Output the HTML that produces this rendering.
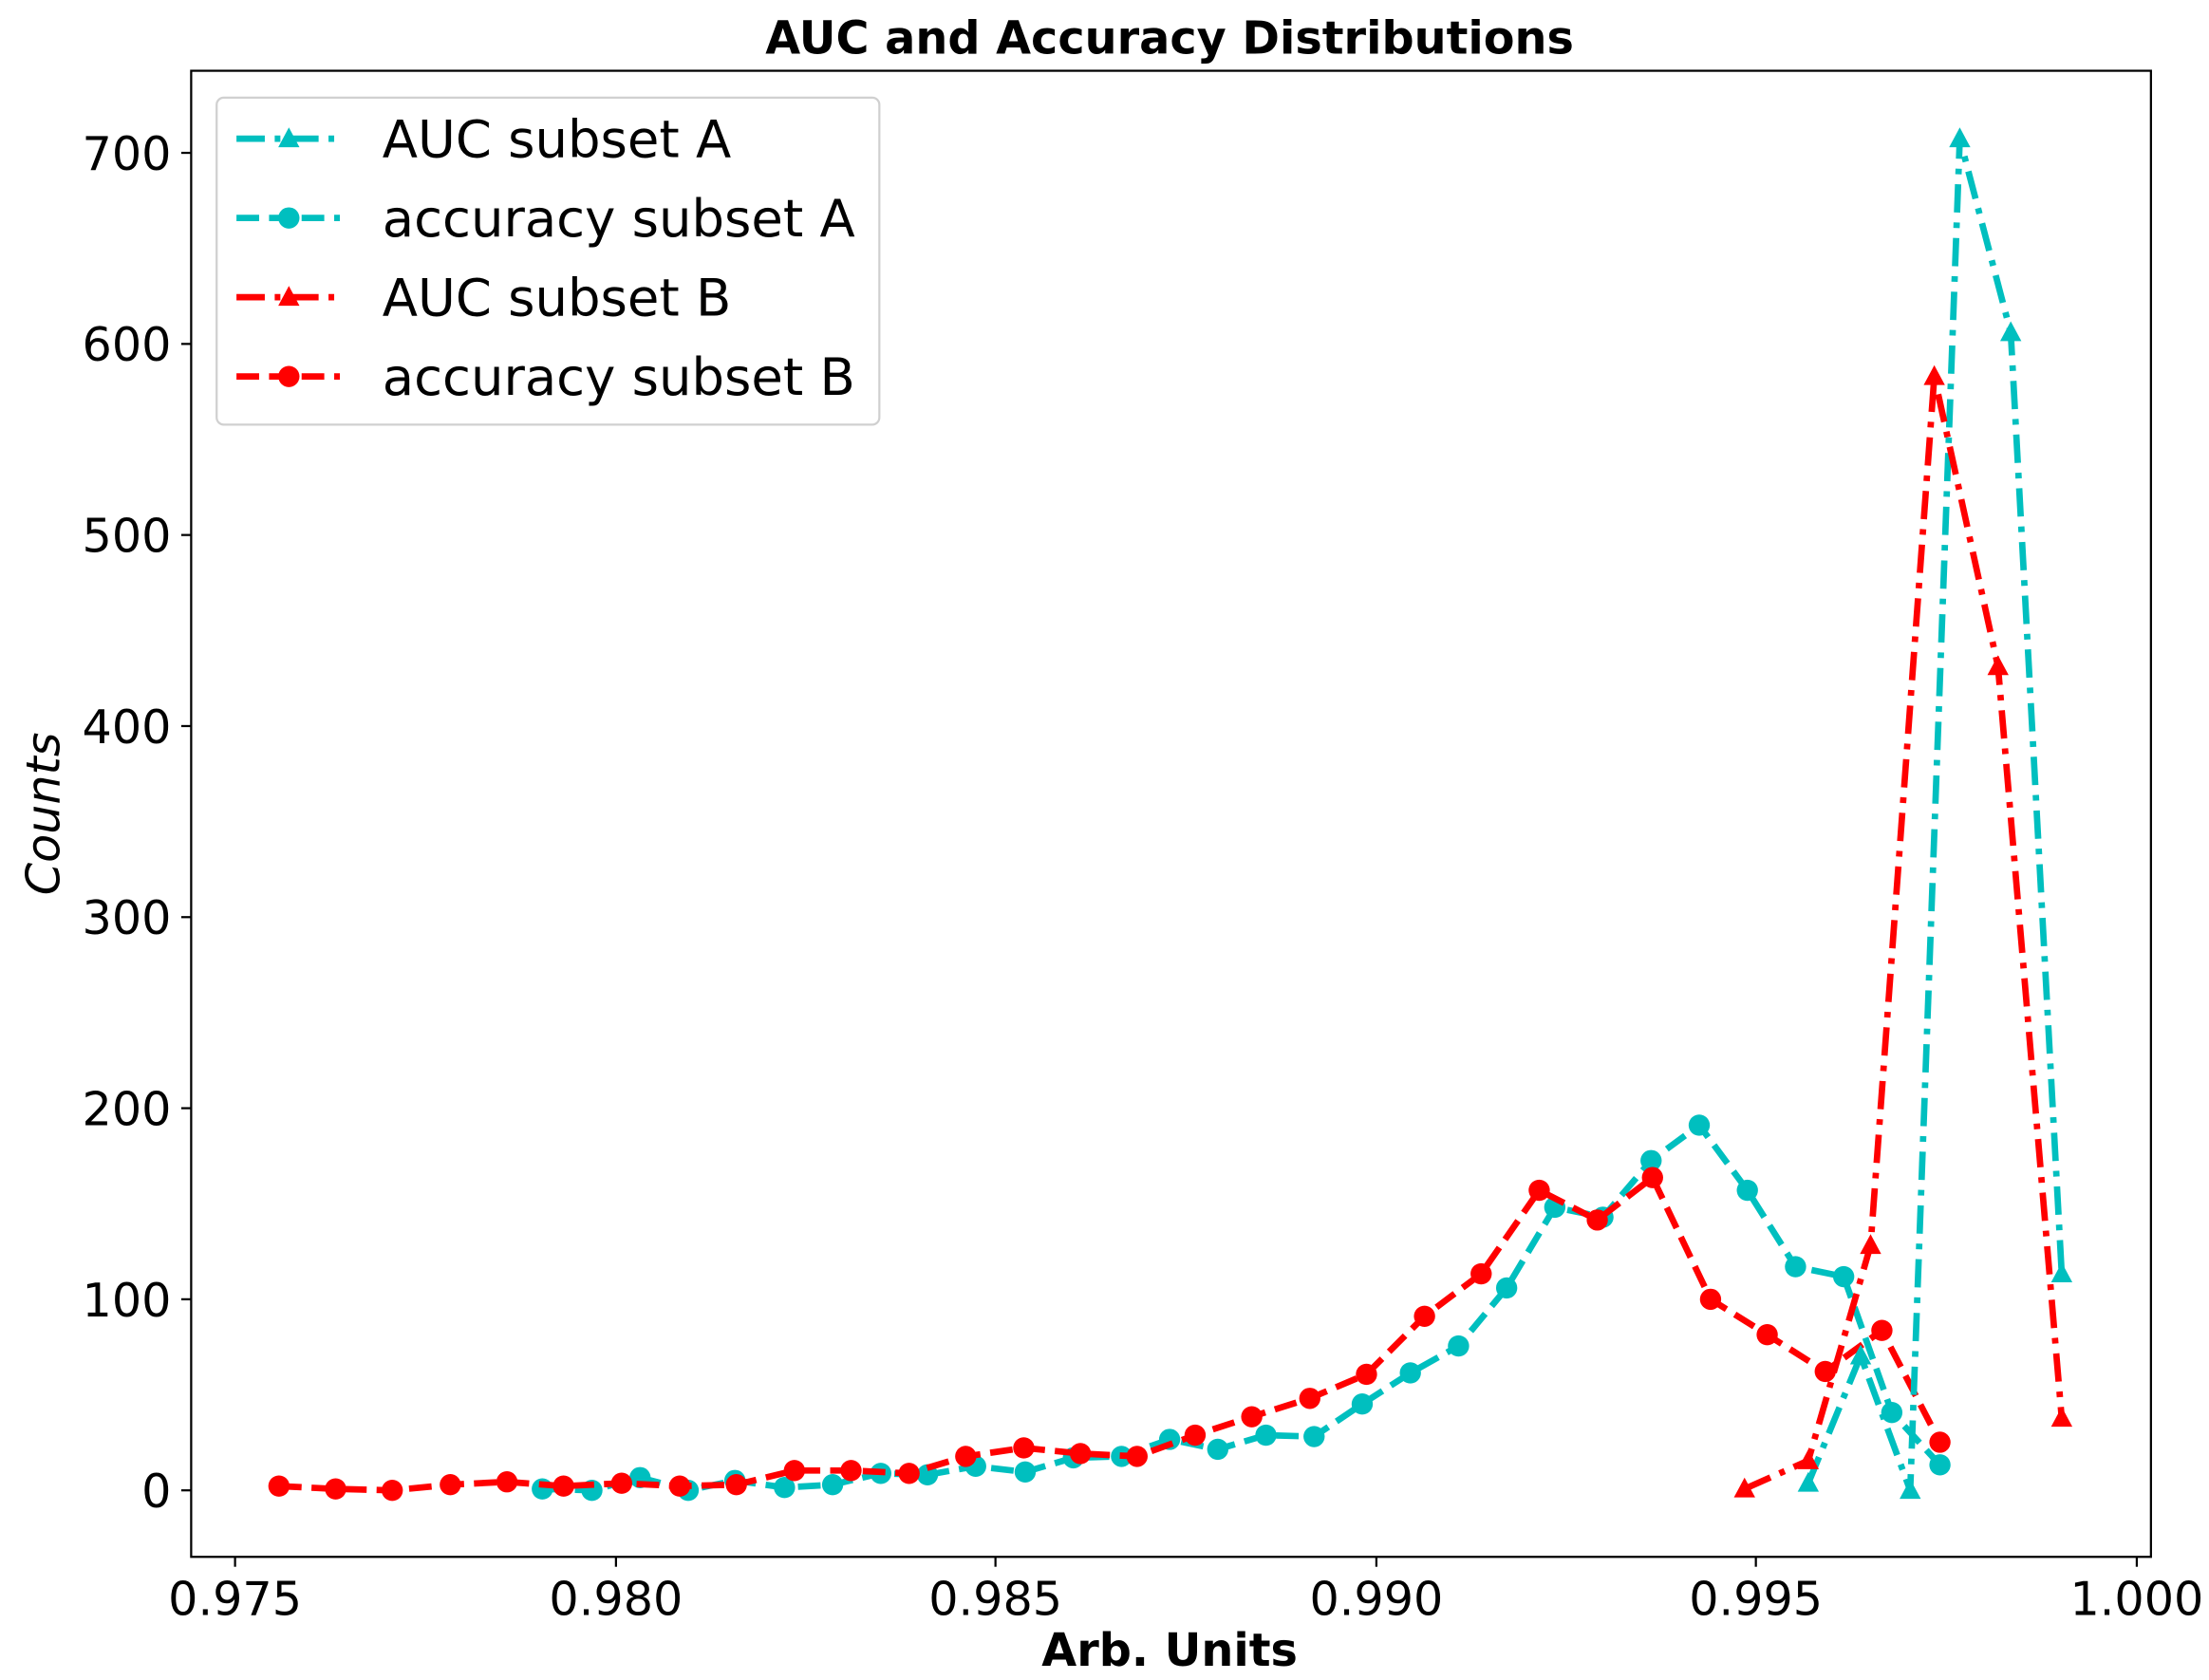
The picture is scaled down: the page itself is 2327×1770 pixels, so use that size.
<!DOCTYPE html>
<html><head><meta charset="utf-8"><style>html,body{margin:0;padding:0;background:#fff}svg{display:block}text{font-family:"DejaVu Sans","Liberation Sans",sans-serif}</style></head><body>
<svg width="2327" height="1770" viewBox="0 0 1560 1187" preserveAspectRatio="none" xmlns="http://www.w3.org/2000/svg">
<defs>
<marker id="tc" viewBox="-10 -10 20 20" markerWidth="20" markerHeight="20" markerUnits="userSpaceOnUse" refX="0" refY="0"><polygon points="0,-8 7.5,6 -7.5,6" fill="#00bfbf"/></marker>
<marker id="cc" viewBox="-10 -10 20 20" markerWidth="20" markerHeight="20" markerUnits="userSpaceOnUse"><circle r="7.5" fill="#00bfbf"/></marker>
<marker id="tr" viewBox="-10 -10 20 20" markerWidth="20" markerHeight="20" markerUnits="userSpaceOnUse"><polygon points="0,-8 7.5,6 -7.5,6" fill="#ff0000"/></marker>
<marker id="cr" viewBox="-10 -10 20 20" markerWidth="20" markerHeight="20" markerUnits="userSpaceOnUse"><circle r="7.5" fill="#ff0000"/></marker>
</defs>
<rect width="1560" height="1187" fill="#fff"/>
<text x="826" y="38" font-size="32" font-weight="bold" text-anchor="middle">AUC and Accuracy Distributions</text>
<g fill="none" stroke-width="4.5" stroke-linejoin="round">
<polyline stroke="#00bfbf" stroke-dasharray="16,7" marker-start="url(#cc)" marker-mid="url(#cc)" marker-end="url(#cc)" points="383,1052 418,1053 452,1044 486,1053 519,1046 554,1051 588,1049 622,1041 655,1042 689,1036 724,1040 758,1030 792,1029 826,1017 860,1024 894,1014 928,1015 962,992 996,970 1030,951 1064,910 1098,853 1132,860 1166,820 1200,795 1234,841 1268,895 1302,902 1336,998 1370,1035"/>
<polyline stroke="#ff0000" stroke-dasharray="16,7" marker-start="url(#cr)" marker-mid="url(#cr)" marker-end="url(#cr)" points="197,1050 237,1052 277,1053 318,1049 358,1047 398,1050 439,1048 480,1050 520,1049 561,1039 601,1039 642,1041 682,1029 723,1023 763,1027 803,1029 844,1014 884,1001 925,988 965,971 1006,930 1046,900 1087,841 1128,862 1167,832 1208,918 1248,943 1289,969 1329,940 1370,1019"/>
<polyline stroke="#00bfbf" stroke-dasharray="20,7,4,7" marker-start="url(#tc)" marker-mid="url(#tc)" marker-end="url(#tc)" points="1277,1048 1314,958 1349,1053 1384,98 1420,235 1456,900"/>
<polyline stroke="#ff0000" stroke-dasharray="20,7,4,7" marker-start="url(#tr)" marker-mid="url(#tr)" marker-end="url(#tr)" points="1232,1052 1277,1032 1321,880 1366,266 1411,471 1456,1002"/>
</g>
<rect x="135" y="50" width="1384" height="1050" fill="none" stroke="#000" stroke-width="1.5"/>
<g stroke="#000" stroke-width="1.5">
<line x1="166" y1="1100" x2="166" y2="1107"/><line x1="435" y1="1100" x2="435" y2="1107"/><line x1="703" y1="1100" x2="703" y2="1107"/><line x1="972" y1="1100" x2="972" y2="1107"/><line x1="1240" y1="1100" x2="1240" y2="1107"/><line x1="1509" y1="1100" x2="1509" y2="1107"/>
<line x1="128" y1="1053" x2="135" y2="1053"/><line x1="128" y1="918" x2="135" y2="918"/><line x1="128" y1="783" x2="135" y2="783"/><line x1="128" y1="648" x2="135" y2="648"/><line x1="128" y1="513" x2="135" y2="513"/><line x1="128" y1="378" x2="135" y2="378"/><line x1="128" y1="243" x2="135" y2="243"/><line x1="128" y1="108" x2="135" y2="108"/>
</g>
<g font-size="33" text-anchor="middle">
<text x="166" y="1141">0.975</text><text x="435" y="1141">0.980</text><text x="703" y="1141">0.985</text><text x="972" y="1141">0.990</text><text x="1240" y="1141">0.995</text><text x="1509" y="1141">1.000</text>
</g>
<g font-size="33" text-anchor="end">
<text x="121" y="1065">0</text><text x="121" y="930">100</text><text x="121" y="795">200</text><text x="121" y="660">300</text><text x="121" y="525">400</text><text x="121" y="390">500</text><text x="121" y="255">600</text><text x="121" y="120">700</text>
</g>
<text x="826" y="1177" font-size="32" font-weight="bold" text-anchor="middle">Arb. Units</text>
<text transform="translate(42,575) rotate(-90)" font-size="33" font-style="italic" text-anchor="middle">Counts</text>
<rect x="153" y="69" width="468" height="231" rx="5" fill="#fff" fill-opacity="0.8" stroke="#d0d0d0" stroke-width="1.5"/>
<g stroke-width="4.5" fill="none">
<line x1="167" y1="98" x2="240" y2="98" stroke="#00bfbf" stroke-dasharray="20,7,4,7"/>
<line x1="167" y1="154" x2="240" y2="154" stroke="#00bfbf" stroke-dasharray="16,7"/>
<line x1="167" y1="210" x2="240" y2="210" stroke="#ff0000" stroke-dasharray="20,7,4,7"/>
<line x1="167" y1="266" x2="240" y2="266" stroke="#ff0000" stroke-dasharray="16,7"/>
</g>
<polygon points="204,90 211.5,104 196.5,104" fill="#00bfbf"/>
<circle cx="204" cy="154" r="7.5" fill="#00bfbf"/>
<polygon points="204,202 211.5,216 196.5,216" fill="#ff0000"/>
<circle cx="204" cy="266" r="7.5" fill="#ff0000"/>
<g font-size="36.5">
<text x="270" y="111">AUC subset A</text><text x="270" y="167">accuracy subset A</text><text x="270" y="223">AUC subset B</text><text x="270" y="279">accuracy subset B</text>
</g>
</svg>
</body></html>
